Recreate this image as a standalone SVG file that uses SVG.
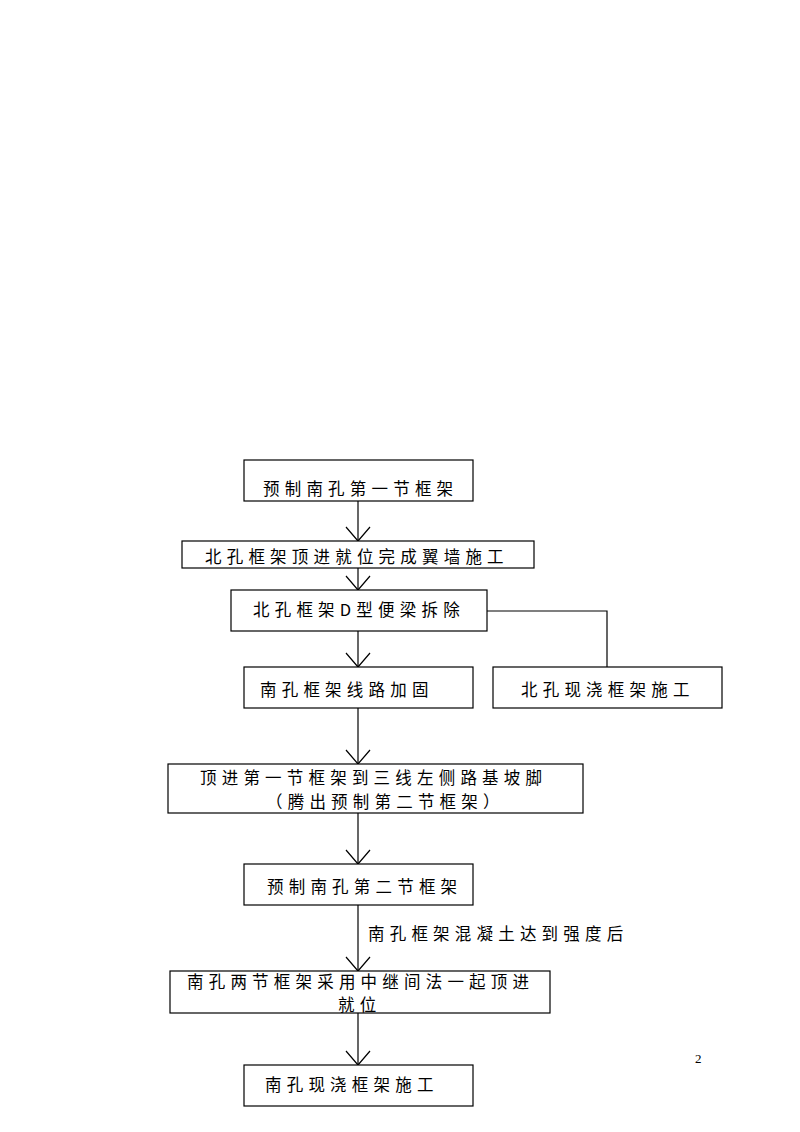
<svg xmlns="http://www.w3.org/2000/svg" width="800" height="1132" viewBox="0 0 800 1132">
<style>
.box{fill:#fff;stroke:#000;stroke-width:1.2}
.t{font-family:"Noto Sans CJK SC","Liberation Sans",sans-serif;font-size:16.5px;letter-spacing:5.2px;fill:#000}
.ln{fill:none;stroke:#000;stroke-width:1.2}
.pg{font-family:"Liberation Serif",serif;font-size:13px;fill:#000}
</style>
<defs>
<marker id="v" markerWidth="16" markerHeight="26" refX="15" refY="13" orient="auto" markerUnits="userSpaceOnUse" viewBox="0 0 16 26">
<path d="M1,1 L15,13 L1,25" fill="none" stroke="#000" stroke-width="1.2"/>
</marker>
</defs>
<rect width="800" height="1132" fill="#fff"/>
<g id="connectors">
<line class="ln" x1="358" y1="501" x2="358" y2="541" marker-end="url(#v)"/>
<line class="ln" x1="358" y1="568" x2="358" y2="590" marker-end="url(#v)"/>
<line class="ln" x1="358" y1="631" x2="358" y2="667" marker-end="url(#v)"/>
<polyline class="ln" points="487,611 607,611 607,667"/>
<line class="ln" x1="358" y1="708" x2="358" y2="764" marker-end="url(#v)"/>
<line class="ln" x1="358" y1="813" x2="358" y2="864" marker-end="url(#v)"/>
<line class="ln" x1="358" y1="905" x2="358" y2="971" marker-end="url(#v)"/>
<text class="t" x="368" y="940">南孔框架混凝土达到强度后</text>
<line class="ln" x1="358" y1="1013" x2="358" y2="1065" marker-end="url(#v)"/>
</g>
<g id="n1"><rect class="box" x="244" y="460" width="229" height="41"/><text class="t" x="263" y="495">预制南孔第一节框架</text></g>
<g id="n2"><rect class="box" x="182" y="541" width="352" height="27"/><text class="t" x="205" y="563">北孔框架顶进就位完成翼墙施工</text></g>
<g id="n3"><rect class="box" x="231" y="590" width="256" height="41"/><text class="t" x="253" y="616">北孔框架D型便梁拆除</text></g>
<g id="n4"><rect class="box" x="244" y="667" width="229" height="41"/><text class="t" x="260" y="696">南孔框架线路加固</text></g>
<g id="n5"><rect class="box" x="493" y="667" width="229" height="41"/><text class="t" x="521" y="696">北孔现浇框架施工</text></g>
<g id="n6"><rect class="box" x="168" y="764" width="415" height="49"/><text class="t" x="200" y="784">顶进第一节框架到三线左侧路基坡脚</text><text class="t" x="266" y="808">（腾出预制第二节框架）</text></g>
<g id="n7"><rect class="box" x="244" y="864" width="229" height="41"/><text class="t" x="267" y="893">预制南孔第二节框架</text></g>
<g id="n8"><rect class="box" x="170" y="971" width="380" height="42"/><text class="t" x="187" y="988">南孔两节框架采用中继间法一起顶进</text><text class="t" x="338" y="1011">就位</text></g>
<g id="n9"><rect class="box" x="244" y="1065" width="229" height="41"/><text class="t" x="265" y="1091">南孔现浇框架施工</text></g>
<text class="pg" x="695" y="1063">2</text>
</svg>
